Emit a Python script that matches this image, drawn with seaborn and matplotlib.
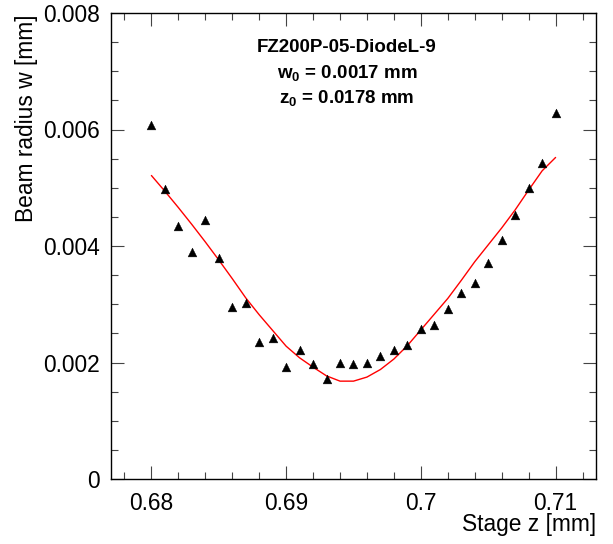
import numpy as np
import pandas as pd
import matplotlib
matplotlib.use("Agg")
import matplotlib.pyplot as plt
import seaborn as sns
from matplotlib.ticker import MultipleLocator, FormatStrFormatter

sns.set_style("ticks")
plt.rcParams['font.family'] = ['Liberation Sans', 'DejaVu Sans']
plt.rcParams['text.color'] = 'black'
plt.rcParams['mathtext.fontset'] = 'custom'
plt.rcParams['mathtext.rm'] = 'Liberation Sans:bold'
plt.rcParams['mathtext.default'] = 'rm'

# measured beam radius vs stage position
stage_z = [0.680, 0.681, 0.682, 0.683, 0.684, 0.685, 0.686, 0.687, 0.688, 0.689,
           0.690, 0.691, 0.692, 0.693, 0.694, 0.695, 0.696, 0.697, 0.698, 0.699,
           0.700, 0.701, 0.702, 0.703, 0.704, 0.705, 0.706, 0.707, 0.708, 0.709, 0.710]
beam_w = [0.00607, 0.00498, 0.00435, 0.00389, 0.00445, 0.00379, 0.00296, 0.00303, 0.00236, 0.00242,
          0.00192, 0.00221, 0.00197, 0.00171, 0.00200, 0.00197, 0.00200, 0.00212, 0.00221, 0.00230,
          0.00257, 0.00264, 0.00291, 0.00320, 0.00336, 0.00370, 0.00411, 0.00454, 0.00499, 0.00543, 0.00629]

# fitted curve
fit_z = [0.680, 0.681, 0.682, 0.683, 0.684, 0.685, 0.686, 0.687, 0.688, 0.689,
         0.690, 0.691, 0.692, 0.693, 0.694, 0.695, 0.696, 0.697, 0.698, 0.699,
         0.700, 0.701, 0.702, 0.703, 0.704, 0.705, 0.706, 0.707, 0.708, 0.709, 0.710]
fit_w = [0.00521, 0.00494, 0.00466, 0.00437, 0.00407, 0.00376, 0.00344, 0.00311, 0.00282, 0.00255,
         0.00228, 0.00208, 0.00192, 0.00177, 0.00168, 0.00168, 0.00175, 0.00188, 0.00206, 0.00229,
         0.00256, 0.00283, 0.00310, 0.00341, 0.00373, 0.00402, 0.00431, 0.00462, 0.00496, 0.00529, 0.00552]

title = "FZ200P-05-DiodeL-9"
w0_text = "w$_0$ = 0.0017 mm"
z0_text = "z$_0$ = 0.0178 mm"

pts = pd.DataFrame({'z': stage_z, 'w': beam_w})
fit = pd.DataFrame({'z': fit_z, 'w': fit_w})

fig = plt.figure(figsize=(6.13, 5.44), dpi=100)
ax = fig.add_axes([111/613, 65/544, 485/613, 466/544])

sns.lineplot(x='z', y='w', data=fit, color='#ff0000', linewidth=1.0, ax=ax, sort=False)
sns.scatterplot(x='z', y='w', data=pts, marker='^', s=40, color='black', edgecolor='black',
                linewidth=0.3, ax=ax, zorder=3)

ax.set_xlim(0.677, 0.713)
ax.set_ylim(0, 0.008)
ax.xaxis.set_major_locator(MultipleLocator(0.01))
ax.xaxis.set_minor_locator(MultipleLocator(0.002))
ax.yaxis.set_major_locator(MultipleLocator(0.002))
ax.yaxis.set_minor_locator(MultipleLocator(0.0005))
ax.xaxis.set_major_formatter(FormatStrFormatter('%g'))
ax.yaxis.set_major_formatter(FormatStrFormatter('%g'))
ax.tick_params(which='both', direction='in', top=True, right=True, color='#444444', width=0.8,
               labelcolor='black')
ax.tick_params(which='major', length=9.5, labelsize=16.4)
ax.tick_params(which='minor', length=5)
ax.tick_params(axis='x', which='major', pad=9)
ax.tick_params(axis='y', which='major', pad=8)
for sp in ax.spines.values():
    sp.set_linewidth(1.0)
    sp.set_color('black')
    sp.set_visible(True)
ax.set_xlabel('')
ax.set_ylabel('')

fig.text(596/613, 1 - 524/544, "Stage z [mm]", ha='right', va='center', fontsize=16.4)
fig.text(27/613, 1 - 14/544, "Beam radius w [mm]", ha='center', va='top', rotation=90, fontsize=16.4)

fig.text(347/613, 1 - 47/544, title, ha='center', va='center', fontsize=13.5, fontweight='bold')
fig.text(347/613, 1 - 73/544, w0_text, ha='center', va='center', fontsize=13.5, fontweight='bold')
fig.text(347/613, 1 - 98/544, z0_text, ha='center', va='center', fontsize=13.5, fontweight='bold')

fig.savefig('out.png', dpi=100)
